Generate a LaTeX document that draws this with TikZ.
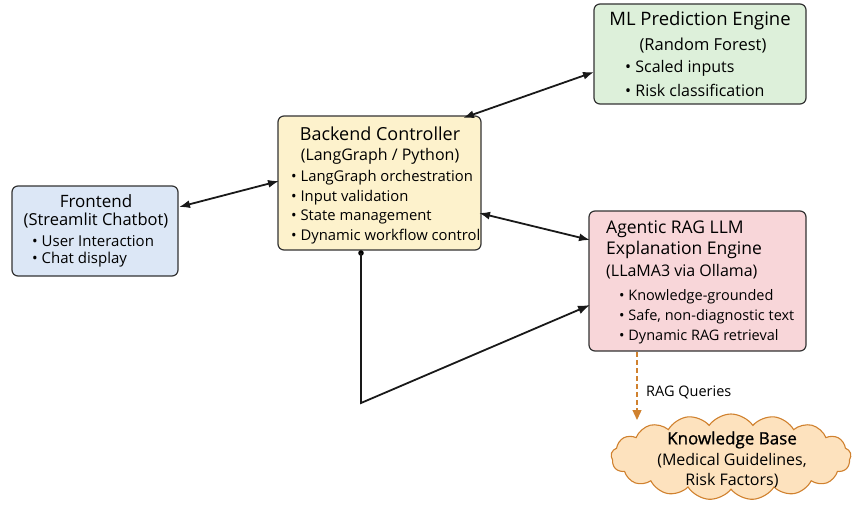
\documentclass[tikz,border=0pt]{standalone}
\usepackage{fontspec}
\setmainfont{Open Sans}
\newfontfamily\semibold[FakeBold=0.9]{Open Sans}
\usetikzlibrary{arrows.meta,shapes.symbols}
\definecolor{fbl}{HTML}{DCE7F6}
\definecolor{fye}{HTML}{FDF2CC}
\definecolor{fgr}{HTML}{DDF0DA}
\definecolor{fpk}{HTML}{F8D6D9}
\definecolor{for}{HTML}{FDE2BE}
\definecolor{dor}{HTML}{D0812E}
\definecolor{bd}{HTML}{333333}
\newcommand{\fsz}[1]{\fontsize{#1}{#1}\selectfont}
\begin{document}
\begin{tikzpicture}[x=1pt,y=-1pt,
  box/.style={draw=bd,line width=1.2pt,rounded corners=6pt,inner sep=0pt},
  txt/.style={inner sep=0pt,anchor=center},
  bul/.style={inner sep=0pt,anchor=west},
  conn/.style={line width=1.8pt,draw=black!90,{Latex[length=11pt,width=8pt]}-{Latex[length=11pt,width=8pt]}},
  oneway/.style={line width=1.8pt,draw=black!90,-{Latex[length=12pt,width=9pt]}}]
\useasboundingbox (0,0) rectangle (853,505);
% boxes
\node[box,fill=fbl,minimum width=166pt,minimum height=90pt] (fe) at (95,231) {};
\node[box,fill=fye,minimum width=203pt,minimum height=134pt] (be) at (379.5,183) {};
\node[box,fill=fgr,minimum width=212pt,minimum height=100pt] (ml) at (700,54) {};
\node[box,fill=fpk,minimum width=217pt,minimum height=140pt] (ag) at (697.5,281) {};
\node[cloud,cloud puffs=17,cloud puff arc=110,aspect=2.7,draw=dor,line width=1.1pt,fill=for,minimum width=240pt,minimum height=86pt,inner sep=0pt] (kb) at (731,457) {};
% frontend text
\node[txt,font=\fsz{17}] (fe1) at (96,201) {Frontend};
\node[txt,font=\fsz{16.5}] (fe2) at (96,221) {(Streamlit Chatbot)};
\node[bul,font=\fsz{15}] (fe3) at (32,241) {\textbullet\ User Interaction};
\node[bul,font=\fsz{15}] (fe4) at (32,260) {\textbullet\ Chat display};
% backend text
\node[txt,font=\fsz{18}] (be1) at (380,134) {Backend Controller};
\node[txt,font=\fsz{16}] (be2) at (380,156) {(LangGraph / Python)};
\node[bul,font=\fsz{14.8}] (be3) at (291,178) {\textbullet\ LangGraph orchestration};
\node[bul,font=\fsz{14.8}] (be4) at (291,198) {\textbullet\ Input validation};
\node[bul,font=\fsz{14.8}] (be5) at (291,217) {\textbullet\ State management};
\node[bul,font=\fsz{14.8}] (be6) at (291,237) {\textbullet\ Dynamic workflow control};
% ML text
\node[txt,font=\fsz{18.5}] (ml1) at (700,21) {ML Prediction Engine};
\node[txt,font=\fsz{16.5}] (ml2) at (703,46) {(Random Forest)};
\node[bul,font=\fsz{16}] (ml3) at (625,68) {\textbullet\ Scaled inputs};
\node[bul,font=\fsz{16}] (ml4) at (625,90) {\textbullet\ Risk classification};
% agentic text
\node[txt,anchor=west,font=\fsz{17.5}] (ag1) at (606,229) {Agentic RAG LLM};
\node[txt,anchor=west,font=\fsz{17.5}] (ag2) at (606,250) {Explanation Engine};
\node[txt,anchor=west,font=\fsz{16}] (ag3) at (606,272) {(LLaMA3 via Ollama)};
\node[bul,font=\fsz{14.5}] (ag4) at (619,297) {\textbullet\ Knowledge-grounded};
\node[bul,font=\fsz{14.5}] (ag5) at (619,317) {\textbullet\ Safe, non-diagnostic text};
\node[bul,font=\fsz{14.5}] (ag6) at (619,337) {\textbullet\ Dynamic RAG retrieval};
% KB text
\node[txt,font=\semibold\fsz{17}] (kb1) at (732,440) {Knowledge Base};
\node[txt,font=\fsz{16}] (kb2) at (732,461) {(Medical Guidelines,};
\node[txt,font=\fsz{16}] (kb3) at (732,481) {Risk Factors)};
% connectors
\coordinate (feR) at (179,207);
\coordinate (beL) at (279,181);
\draw[conn] (feR) -- (beL);
\coordinate (beT) at (463,118);
\coordinate (mlL) at (594,72);
\draw[conn] (beT) -- (mlL);
\coordinate (beR) at (479,213);
\coordinate (agL) at (590,240);
\draw[conn] (beR) -- (agL);
\coordinate (beB) at (361,253);
\coordinate (bend) at (361,403);
\coordinate (agL2) at (590,305);
\fill (beB) circle (2.8pt);
\draw[oneway] (beB) -- (bend) -- (agL2);
\coordinate (agB) at (637,352);
\coordinate (kbT) at (637,420);
\draw[dor,line width=1.3pt,dash pattern=on 5pt off 3pt,-{Triangle[length=10pt,width=9pt]}] (agB) -- (kbT);
\node[font=\fsz{14.5},anchor=west,inner sep=0pt] (rq) at (646,392) {RAG Queries};
\end{tikzpicture}
\end{document}
